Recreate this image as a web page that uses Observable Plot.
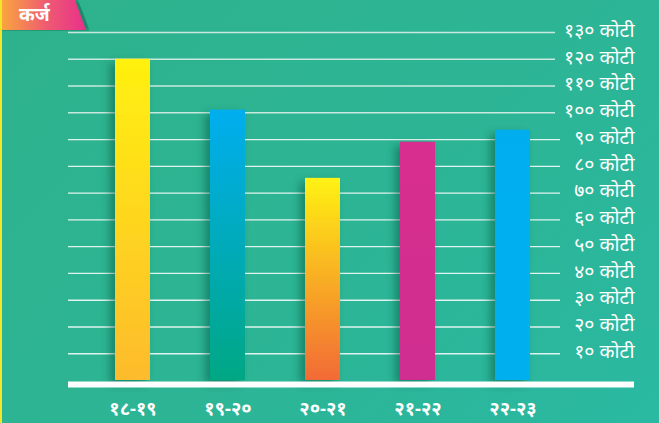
<!DOCTYPE html>
<html>
<head>
<meta charset="utf-8">
<script src="https://cdn.jsdelivr.net/npm/d3@7"></script>
<script src="https://cdn.jsdelivr.net/npm/@observablehq/plot@0.6"></script>
<style>
  html, body { margin: 0; padding: 0; }
  body { width: 659px; height: 423px; overflow: hidden; }
  #wrap {
    position: relative; width: 659px; height: 423px;
    background: linear-gradient(135deg, #2eb28c 0%, #2cb596 60%, #2ab9a2 100%);
    font-family: "Noto Sans", "Noto Sans Devanagari", sans-serif;
  }
  #wrap::before {
    content: ""; position: absolute; left: 0; top: 0; width: 2px; height: 423px; background: #f4e62a; z-index: 3;
  }
  #tag {
    position: absolute; left: 0; top: 0; width: 86px; height: 30px;
    background: linear-gradient(90deg, #f9a93c 0%, #ee5a72 55%, #e8308b 100%);
    clip-path: polygon(0 0, 75px 0, 86px 30px, 0 30px);
    color: #fff; font-weight: bold; font-size: 19px; line-height: 28px;
    padding-left: 19px; box-sizing: border-box; z-index: 2;
  }
  #tagshadow {
    position: absolute; left: 0; top: 0; width: 90px; height: 31px;
    background: rgba(0,60,40,0.35); filter: blur(2px);
    clip-path: polygon(0 0, 78px 0, 90px 31px, 0 31px);
    z-index: 1;
  }
  #chart { position: absolute; left: 0; top: 0; }
</style>
</head>
<body>
<div id="wrap">
  <div id="tagshadow"></div>
  <div id="tag">कर्ज</div>
  <div id="chart"></div>
</div>
<script>
const title = "कर्ज";
const years = ["१८-१९", "१९-२०", "२०-२१", "२१-२२", "२२-२३"];
const values = [120, 101, 75.5, 89, 93.5];
const tickValues = [10, 20, 30, 40, 50, 60, 70, 80, 90, 100, 110, 120, 130];
const tickLabels = ["१० कोटी", "२० कोटी", "३० कोटी", "४० कोटी", "५० कोटी", "६० कोटी", "७० कोटी", "८० कोटी", "९० कोटी", "१०० कोटी", "११० कोटी", "१२० कोटी", "१३० कोटी"];
const gradients = [
  ["#fff10f", "#fdbb2d"],
  ["#00aeef", "#00a784"],
  ["#fff212", "#f26a36"],
  ["#d82e8f", "#cf2e90"],
  ["#00aeef", "#00b0ee"]
];

const data = years.map((y, i) => ({year: y, value: values[i], fill: `url(#g${i})`}));
const ticks = tickValues.map((v, i) => ({v, label: tickLabels[i]}));

const chart = Plot.plot({
  width: 659,
  height: 423,
  marginLeft: 68,
  marginRight: 25,
  marginTop: 32,
  marginBottom: 43,
  style: {background: "transparent", fontFamily: "'Noto Sans', sans-serif", color: "#fff"},
  x: {domain: years, paddingInner: 0.635, paddingOuter: 0.7655, align: 0.313, label: null},
  y: {domain: [0, 130], axis: null},
  color: {type: "identity"},
  marks: [
    Plot.ruleY(ticks.filter(d => d.v >= 100), {y: "v", stroke: "#e4f2ec", strokeOpacity: 0.85, strokeWidth: 1.6, insetRight: 79}),
    Plot.ruleY(ticks.filter(d => d.v < 100), {y: "v", stroke: "#ffffff", strokeOpacity: 0.85, strokeWidth: 1.4, insetRight: 74}),
    Plot.text(ticks, {y: "v", text: "label", frameAnchor: "right", textAnchor: "end", fill: "#fff", fontSize: 19.5, dy: -2}),
    Plot.barY(data, {x: "year", y: "value", fill: "fill"}),
    Plot.ruleY([0], {stroke: "#fff", strokeWidth: 6, dy: 4}),
    Plot.axisX({tickSize: 0, tickPadding: 21, fontSize: 18.5, fontWeight: "bold", fill: "#fff"})
  ]
});

const svg = d3.select(chart);
const defs = svg.insert("defs", ":first-child");
gradients.forEach((g, i) => {
  const lg = defs.append("linearGradient").attr("id", `g${i}`).attr("x1", 0).attr("y1", 0).attr("x2", 0).attr("y2", 1);
  lg.append("stop").attr("offset", "0%").attr("stop-color", g[0]);
  lg.append("stop").attr("offset", "100%").attr("stop-color", g[1]);
});
const f = defs.append("filter").attr("id", "shadow").attr("x", "-50%").attr("y", "-10%").attr("width", "200%").attr("height", "130%");
f.append("feDropShadow").attr("dx", -5).attr("dy", 4).attr("stdDeviation", 4).attr("flood-color", "#0b4a36").attr("flood-opacity", 0.45);
svg.selectAll("g[aria-label='bar'] rect").attr("filter", "url(#shadow)");

document.getElementById("chart").appendChild(chart);
</script>
</body>
</html>
